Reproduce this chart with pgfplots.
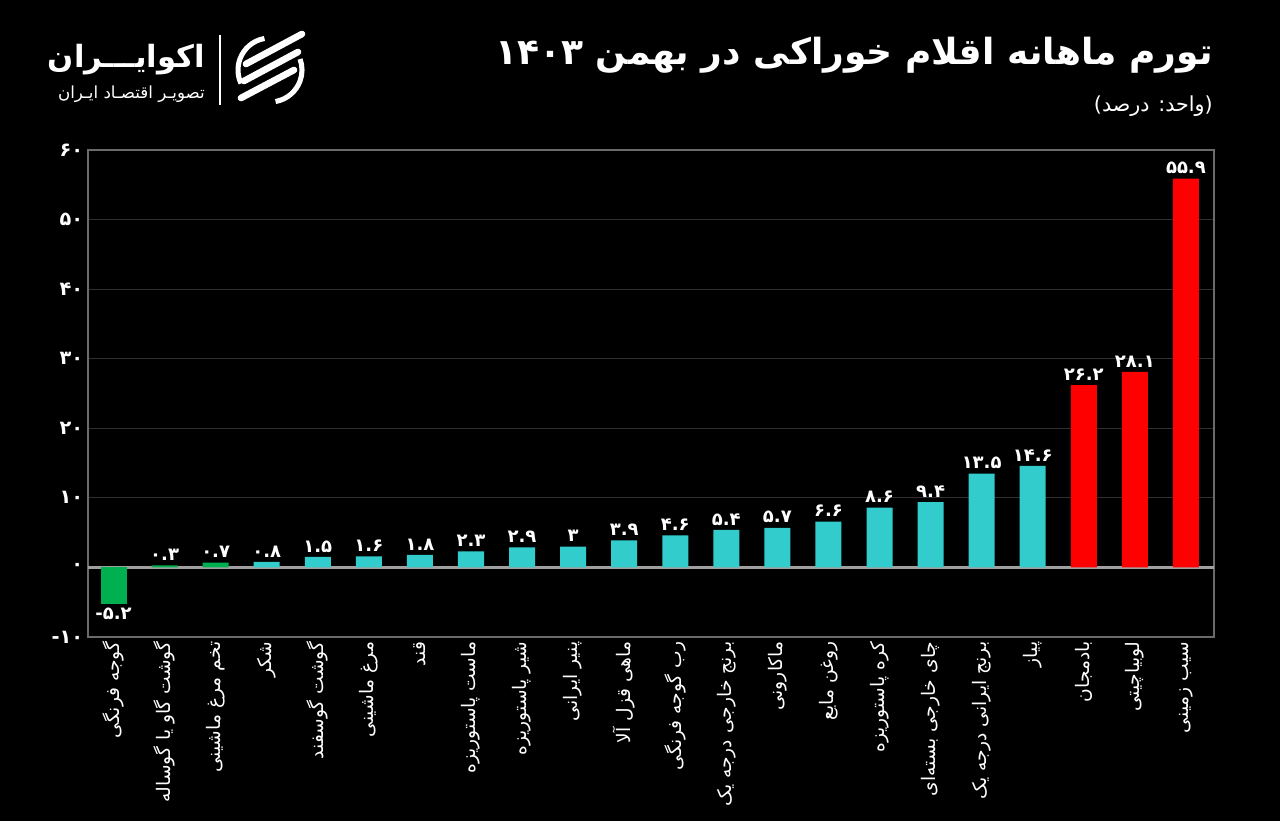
\documentclass[border=0pt]{standalone}
\usepackage{fontspec}
\usepackage{pgfplots}
\pgfplotsset{compat=1.18}
\TeXXeTstate=1
\newfontfamily\fa[Script=Arabic]{DejaVu Sans}
\definecolor{gr}{HTML}{00B050}
\definecolor{cy}{HTML}{33CCCC}
\definecolor{rd}{HTML}{FF0000}
\definecolor{gridc}{HTML}{303030}
\definecolor{framec}{HTML}{6A6A6A}
\definecolor{zeroc}{HTML}{A0A0A0}
\begin{document}
\begin{tikzpicture}[x=0.75pt,y=0.75pt]
\useasboundingbox (0,0) rectangle (1280,821);
\fill[black] (0,0) rectangle (1280,821);
% title
\node[anchor=east,text=white,inner sep=0pt,font=\fa\bfseries\fontsize{27}{31}\selectfont] at (1213,766) {\beginR تورم ماهانه اقلام خوراکی در بهمن ۱۴۰۳\endR};
\node[anchor=east,text=white,inner sep=0pt,font=\fa\fontsize{15.5}{18}\selectfont] at (1213,715) {\beginR (واحد: درصد)\endR};
% logo
\node[anchor=east,text=white,inner sep=0pt,font=\fa\bfseries\fontsize{23}{27}\selectfont] at (205,761) {\beginR اکوایـــران\endR};
\node[anchor=east,text=white,inner sep=0pt,font=\fa\fontsize{12.5}{15}\selectfont] at (205,727) {\beginR تصویـر اقتصـاد ایـران\endR};
\draw[white,line width=0.8pt] (220,786) -- (220,716);
\draw[white,line width=3.8pt] (270,751) ++(100:32) arc (100:205:32);
\draw[white,line width=3.8pt] (270,751) ++(280:32) arc (280:380:32);
\draw[white,line width=5pt,line cap=round] (246,757) -- (302,787);
\draw[white,line width=5pt,line cap=round] (244,740) -- (298,769);
\draw[white,line width=5pt,line cap=round] (241,723) -- (294,751);
\begin{axis}[
  at={(66pt,138pt)}, anchor=south west,
  scale only axis, width=844.5pt, height=365.25pt,
  xmin=-0.5, xmax=21.55, ymin=-10, ymax=60,
  axis line style={framec, line width=0.8pt},
  ytick={-10,0,...,60},
  yticklabels={\mbox{-}\mbox{۱۰},۰,۱۰,۲۰,۳۰,۴۰,۵۰,۶۰},
  yticklabel style={font=\fa\bfseries\fontsize{14.5}{16}\selectfont, text=white},
  xtick={0,...,21},
  xticklabels={
    {\beginR گوجه فرنگی\endR},
    {\beginR گوشت گاو یا گوساله\endR},
    {\beginR تخم مرغ ماشینی\endR},
    {\beginR شکر\endR},
    {\beginR گوشت گوسفند\endR},
    {\beginR مرغ ماشینی\endR},
    {\beginR قند\endR},
    {\beginR ماست پاستوریزه\endR},
    {\beginR شیر پاستوریزه\endR},
    {\beginR پنیر ایرانی\endR},
    {\beginR ماهی قزل آلا\endR},
    {\beginR رب گوجه فرنگی\endR},
    {\beginR برنج خارجی درجه یک\endR},
    {\beginR ماکارونی\endR},
    {\beginR روغن مایع\endR},
    {\beginR کره پاستوریزه\endR},
    {\beginR چای خارجی بسته‌ای\endR},
    {\beginR برنج ایرانی درجه یک\endR},
    {\beginR پیاز\endR},
    {\beginR بادمجان\endR},
    {\beginR لوبیاچیتی\endR},
    {\beginR سیب زمینی\endR}},
  xticklabel style={rotate=90, anchor=east, font=\fa\fontsize{14}{16}\selectfont, text=white},
  major tick length=0pt,
  ymajorgrids, grid style={gridc, line width=0.9pt},
  extra y ticks={0}, extra y tick labels={},
  extra y tick style={grid style={zeroc, line width=2pt}},
  every axis plot/.append style={ybar, bar width=19.5pt, bar shift=0pt, draw=none,
     point meta=explicit symbolic, nodes near coords,
     every node near coord/.append style={font=\fa\bfseries\fontsize{13.5}{15}\selectfont, text=white}},
]
\addplot[fill=gr, every node near coord/.append style={anchor=north}] coordinates {(0,-5.2)[\mbox{-}\mbox{۵.۲}]};
\addplot[fill=gr] coordinates {(1,0.3)[۰.۳] (2,0.7)[۰.۷]};
\addplot[fill=cy] coordinates {(3,0.8)[۰.۸] (4,1.5)[۱.۵] (5,1.6)[۱.۶] (6,1.8)[۱.۸] (7,2.3)[۲.۳] (8,2.9)[۲.۹] (9,3)[۳] (10,3.9)[۳.۹] (11,4.6)[۴.۶] (12,5.4)[۵.۴] (13,5.7)[۵.۷] (14,6.6)[۶.۶] (15,8.6)[۸.۶] (16,9.4)[۹.۴] (17,13.5)[۱۳.۵] (18,14.6)[۱۴.۶]};
\addplot[fill=rd] coordinates {(19,26.2)[۲۶.۲] (20,28.1)[۲۸.۱] (21,55.9)[۵۵.۹]};
\end{axis}
\end{tikzpicture}
\end{document}
